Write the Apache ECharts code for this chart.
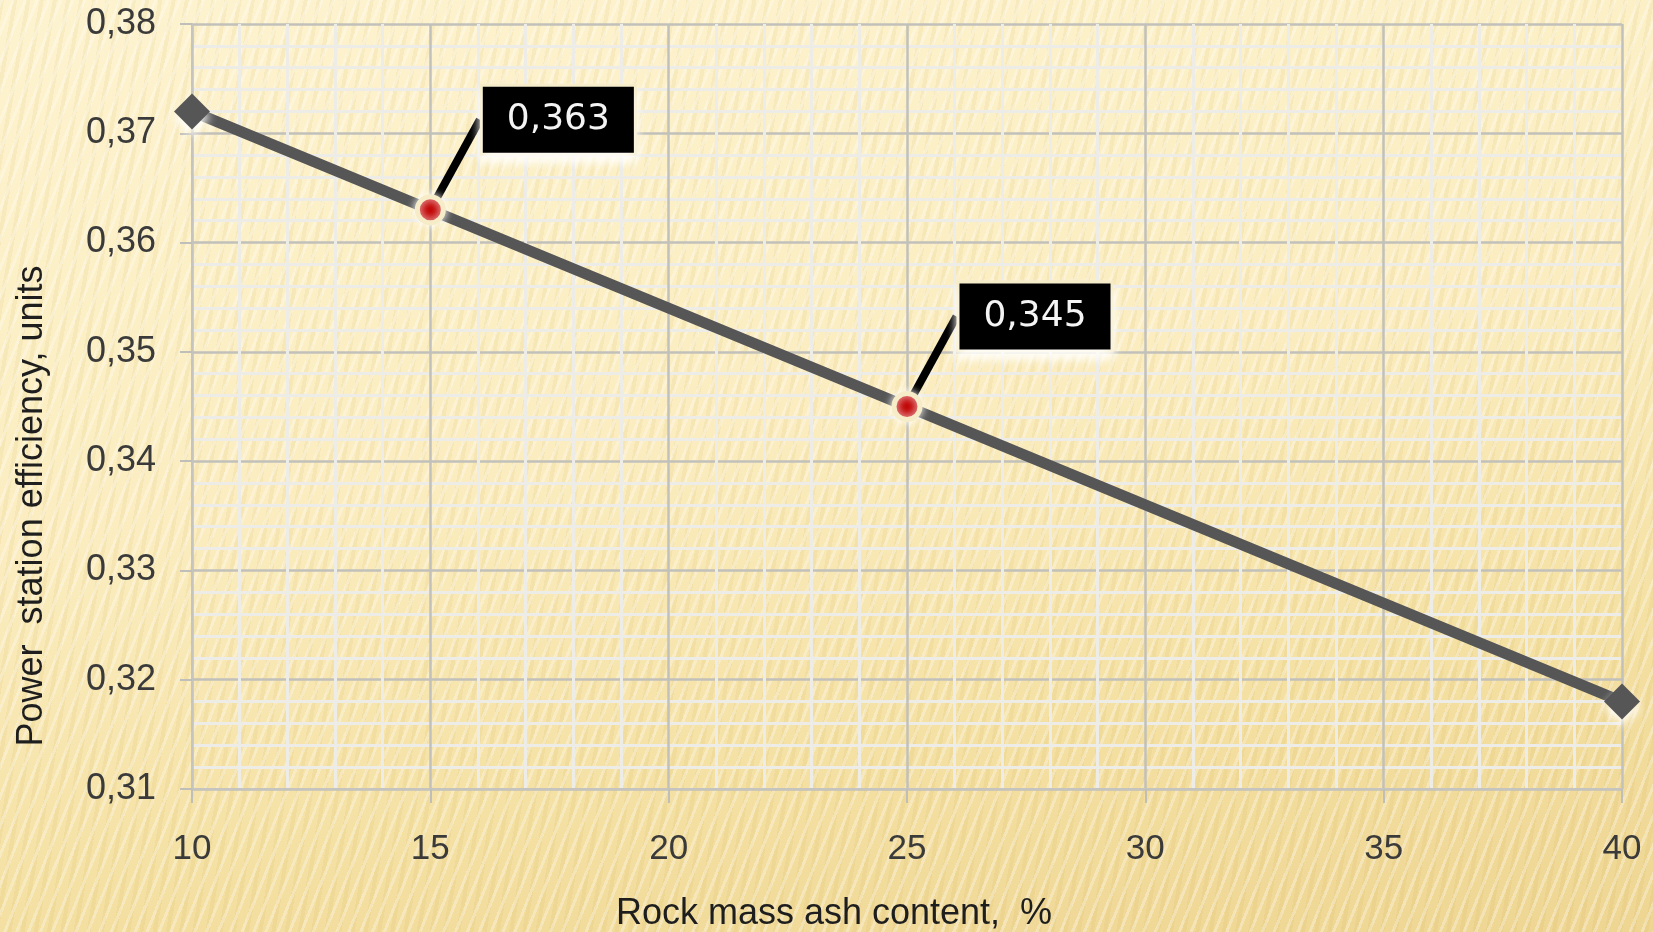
<!DOCTYPE html>
<html>
<head>
<meta charset="utf-8">
<script src="https://cdn.jsdelivr.net/npm/echarts@6/dist/echarts.min.js"></script>
<style>
  html, body { margin: 0; padding: 0; }
  body {
    width: 1653px; height: 932px; overflow: hidden;
    background:
      repeating-linear-gradient(112deg, rgba(255,255,255,0.30) 0px, rgba(255,255,255,0.30) 3px, rgba(255,255,255,0) 3px, rgba(255,255,255,0) 11px),
      repeating-linear-gradient(100deg, rgba(190,150,40,0.08) 0px, rgba(190,150,40,0.08) 4px, rgba(0,0,0,0) 4px, rgba(0,0,0,0) 13px),
      linear-gradient(170deg, #fdf3cf 0%, #fbedc0 45%, #f4e0a2 75%, #eed592 100%);
  }
  #chart { width: 1653px; height: 932px; }
</style>
</head>
<body>
<div id="chart"></div>
<script>
// Rock mass ash content (%) vs. power station efficiency
const ashContent = [10, 15, 25, 40];
const efficiency = [0.372, 0.363, 0.345, 0.318];
// which points carry a value callout
const calloutShown = [false, true, true, false];
const yTicks = { min: 0.31, max: 0.38, step: 0.01 };
const xTicks = { min: 10, max: 40, step: 5 };
const xAxisTitle = 'Rock mass ash content,  %';
const yAxisTitle = 'Power  station efficiency, units';

const fmt = v => String(v).replace('.', ',');

const seriesData = ashContent.map((x, i) => {
  const item = { value: [x, efficiency[i]] };
  if (calloutShown[i]) {
    item.symbol = 'circle';
    item.symbolSize = 26;
    item.itemStyle = { color: '#c00000', borderColor: '#f6ecc8', borderWidth: 5,
      shadowColor: 'rgba(255,255,255,0.9)', shadowBlur: 8 };
    item.label = {
      show: true,
      formatter: p => fmt(p.value[1]),
    };
  } else {
    item.symbol = 'diamond';
    item.symbolSize = [36, 36];
    item.itemStyle = { color: '#565656', borderWidth: 0,
      shadowColor: 'rgba(255,255,255,0.95)', shadowBlur: 10, shadowOffsetY: 6 };
  }
  return item;
});

const chart = echarts.init(document.getElementById('chart'), null, { renderer: 'canvas' });

chart.setOption({
  backgroundColor: 'transparent',
  animation: false,
  grid: { left: 192, right: 31, top: 24, bottom: 143 },
  xAxis: {
    type: 'value',
    min: xTicks.min, max: xTicks.max, interval: xTicks.step,
    axisLine: { show: true, lineStyle: { color: '#c6c4be', width: 2 } },
    axisTick: { show: true, length: 14, lineStyle: { color: '#c0beb8', width: 2 } },
    axisLabel: { margin: 43, color: '#3a3a3a', fontFamily: 'Liberation Sans', fontSize: 35 },
    splitLine: { show: true, lineStyle: { color: '#c2c0ba', width: 2.5 } },
    minorTick: { show: true, splitNumber: 5, length: 0 },
    minorSplitLine: { show: true, lineStyle: { color: '#eeece6', width: 3 } }
  },
  yAxis: {
    type: 'value',
    min: yTicks.min, max: yTicks.max, interval: yTicks.step,
    axisLine: { show: true, lineStyle: { color: '#c6c4be', width: 2 } },
    axisTick: { show: true, length: 12, lineStyle: { color: '#c0beb8', width: 2 } },
    axisLabel: {
      margin: 36, color: '#3a3a3a', fontFamily: 'Liberation Sans', fontSize: 36,
      formatter: v => v.toFixed(2).replace('.', ',')
    },
    splitLine: { show: true, lineStyle: { color: '#c2c0ba', width: 2.5 } },
    minorTick: { show: true, splitNumber: 5, length: 0 },
    minorSplitLine: { show: true, lineStyle: { color: '#eeece6', width: 3 } }
  },
  series: [{
    type: 'line',
    data: seriesData,
    lineStyle: { color: '#565656', width: 11 },
    z: 5,
    label: {
      show: false,
      position: 'inside',
      color: '#f4f4f4',
      fontFamily: 'DejaVu Sans',
      fontSize: 36,
      backgroundColor: '#000000',
      borderColor: '#f6ecc8',
      borderWidth: 3,
      padding: [16, 24, 14, 24],
      shadowColor: 'rgba(255,255,255,0.9)',
      shadowBlur: 10,
      shadowOffsetY: 6
    },
    labelLayout: { dx: 128, dy: -90 },
    labelLine: { show: true, lineStyle: { color: '#000000', width: 8 } }
  }],
  graphic: [
    {
      type: 'text', x: 32, y: 506, rotation: Math.PI / 2,
      style: { text: yAxisTitle, fill: '#1e1e1e', font: '36px "Liberation Sans"',
               textAlign: 'center', textVerticalAlign: 'middle' }
    },
    {
      type: 'text', x: 834, y: 914,
      style: { text: xAxisTitle, fill: '#1e1e1e', font: '36px "Liberation Sans"',
               textAlign: 'center', textVerticalAlign: 'middle' }
    }
  ]
});
</script>
</body>
</html>
